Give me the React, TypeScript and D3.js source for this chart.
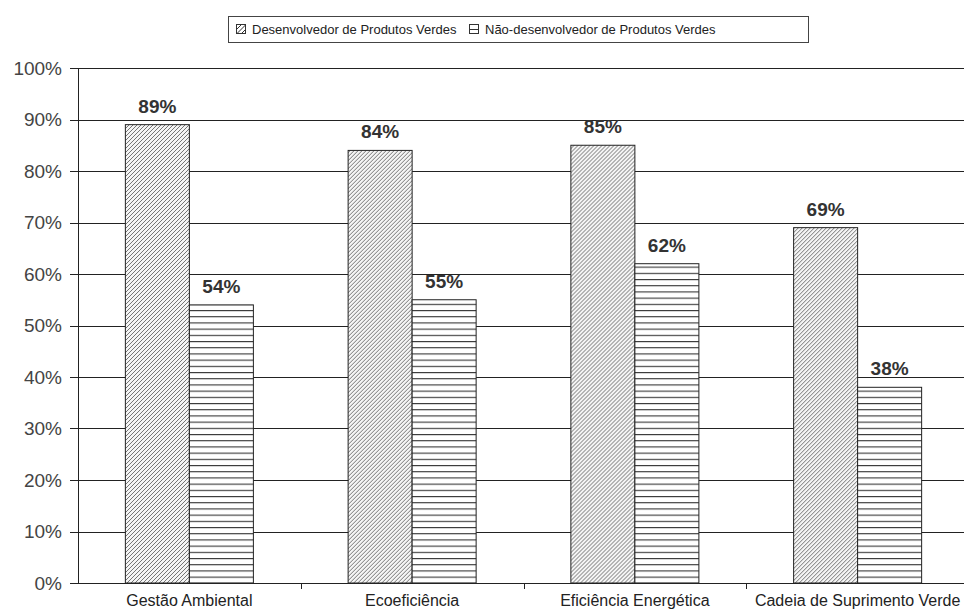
import { useEffect, useRef } from 'react';
import * as d3 from 'd3';

const categories = ['Gestão Ambiental', 'Ecoeficiência', 'Eficiência Energética', 'Cadeia de Suprimento Verde'];
const seriesNames = ['Desenvolvedor de Produtos Verdes', 'Não-desenvolvedor de Produtos Verdes'];
const developers = [89, 84, 85, 69];
const nonDevelopers = [54, 55, 62, 38];
const yTicks = [0, 10, 20, 30, 40, 50, 60, 70, 80, 90, 100];

const width = 964;
const height = 610;
const FONT = '"Liberation Sans", Arial, sans-serif';

export default function App() {
  const svgRef = useRef<SVGSVGElement>(null);

  useEffect(() => {
    if (!svgRef.current) return;
    const svg = d3.select(svgRef.current);
    svg.selectAll('*').remove();

    const margin = { top: 68, left: 78, bottom: 27 };
    const plotRight = 969;

    const defs = svg.append('defs');
    const diag = defs.append('pattern')
      .attr('id', 'diag')
      .attr('patternUnits', 'userSpaceOnUse')
      .attr('width', 4)
      .attr('height', 4);
    diag.append('rect').attr('width', 4).attr('height', 4).attr('fill', '#f4f4f4');
    diag.append('path')
      .attr('d', 'M-1,5 L5,-1 M-1,1 L1,-1 M3,5 L5,3')
      .attr('stroke', '#666')
      .attr('stroke-width', 0.9);

    const horiz = defs.append('pattern')
      .attr('id', 'horiz')
      .attr('patternUnits', 'userSpaceOnUse')
      .attr('width', 6)
      .attr('height', 6.2);
    horiz.append('rect').attr('width', 6).attr('height', 6.2).attr('fill', '#fff');
    horiz.append('line')
      .attr('x1', 0).attr('x2', 6).attr('y1', 0.5).attr('y2', 0.5)
      .attr('stroke', '#333').attr('stroke-width', 1.2);

    const x = d3.scaleBand<string>()
      .domain(categories)
      .range([margin.left, plotRight]);
    const xInner = d3.scaleBand<number>()
      .domain([0, 1])
      .range([0, x.bandwidth()])
      .paddingOuter(0.74);
    const y = d3.scaleLinear()
      .domain([0, 100])
      .range([height - margin.bottom, margin.top]);

    // gridlines
    svg.append('g')
      .selectAll('line')
      .data(yTicks)
      .join('line')
      .attr('x1', margin.left - 8)
      .attr('x2', plotRight)
      .attr('y1', d => Math.round(y(d)) + 0.5)
      .attr('y2', d => Math.round(y(d)) + 0.5)
      .attr('stroke', '#222')
      .attr('stroke-width', 1);

    svg.append('g')
      .selectAll('text')
      .data(yTicks)
      .join('text')
      .attr('x', margin.left - 16)
      .attr('y', d => y(d))
      .attr('dy', '0.35em')
      .attr('text-anchor', 'end')
      .attr('font-family', FONT)
      .attr('font-size', 19)
      .attr('fill', '#444')
      .text(d => `${d}%`);

    // y axis line
    svg.append('line')
      .attr('x1', margin.left + 0.5)
      .attr('x2', margin.left + 0.5)
      .attr('y1', y(100))
      .attr('y2', y(0))
      .attr('stroke', '#222');

    // category ticks
    svg.append('g')
      .selectAll('line')
      .data(categories.slice(1))
      .join('line')
      .attr('x1', d => Math.round(x(d)!) + 0.5)
      .attr('x2', d => Math.round(x(d)!) + 0.5)
      .attr('y1', y(0))
      .attr('y2', y(0) + 6)
      .attr('stroke', '#222');

    const groups = svg.append('g')
      .selectAll('g')
      .data(categories)
      .join('g')
      .attr('transform', d => `translate(${x(d)},0)`);

    const series = [developers, nonDevelopers];
    const fills = ['url(#diag)', 'url(#horiz)'];

    series.forEach((vals, si) => {
      groups.append('rect')
        .attr('x', xInner(si)!)
        .attr('width', xInner.bandwidth())
        .attr('y', (_, i) => y(vals[i]))
        .attr('height', (_, i) => y(0) - y(vals[i]))
        .attr('fill', fills[si])
        .attr('stroke', '#222')
        .attr('stroke-width', 1);

      groups.append('text')
        .attr('x', xInner(si)! + xInner.bandwidth() / 2)
        .attr('y', (_, i) => y(vals[i]) - 12)
        .attr('text-anchor', 'middle')
        .attr('font-family', FONT)
        .attr('font-size', 19)
        .attr('font-weight', 'bold')
        .attr('fill', '#333')
        .text((_, i) => `${vals[i]}%`);
    });

    groups.append('text')
      .attr('x', x.bandwidth() / 2)
      .attr('y', y(0) + 23)
      .attr('text-anchor', 'middle')
      .attr('font-family', FONT)
      .attr('font-size', 16)
      .attr('fill', '#222')
      .text(d => d);

    // legend
    const legend = svg.append('g');
    legend.append('rect')
      .attr('x', 228.5)
      .attr('y', 16.5)
      .attr('width', 580)
      .attr('height', 26)
      .attr('fill', '#fff')
      .attr('stroke', '#444');
    const legendX = [236, 469];
    seriesNames.forEach((name, i) => {
      legend.append('rect')
        .attr('x', legendX[i] + 0.5)
        .attr('y', 24.5)
        .attr('width', 9)
        .attr('height', 9)
        .attr('fill', '#fff')
        .attr('stroke', '#333');
      if (i === 0) {
        legend.append('line')
          .attr('x1', legendX[i] + 1).attr('y1', 33.5)
          .attr('x2', legendX[i] + 9.5).attr('y2', 25)
          .attr('stroke', '#333');
        legend.append('line')
          .attr('x1', legendX[i] + 1).attr('y1', 29)
          .attr('x2', legendX[i] + 5).attr('y2', 25)
          .attr('stroke', '#333');
        legend.append('line')
          .attr('x1', legendX[i] + 5.5).attr('y1', 33.5)
          .attr('x2', legendX[i] + 9.5).attr('y2', 29.5)
          .attr('stroke', '#333');
      } else {
        legend.append('line')
          .attr('x1', legendX[i] + 0.5).attr('y1', 29.5)
          .attr('x2', legendX[i] + 9.5).attr('y2', 29.5)
          .attr('stroke', '#333');
      }
      legend.append('text')
        .attr('x', legendX[i] + 16)
        .attr('y', 29)
        .attr('dy', '0.35em')
        .attr('font-family', FONT)
        .attr('font-size', 13)
        .attr('fill', '#222')
        .text(name);
    });
  }, []);

  return (
    <svg
      ref={svgRef}
      width={width}
      height={height}
      style={{ position: 'absolute', left: 0, top: 0, background: '#fff' }}
    />
  );
}
